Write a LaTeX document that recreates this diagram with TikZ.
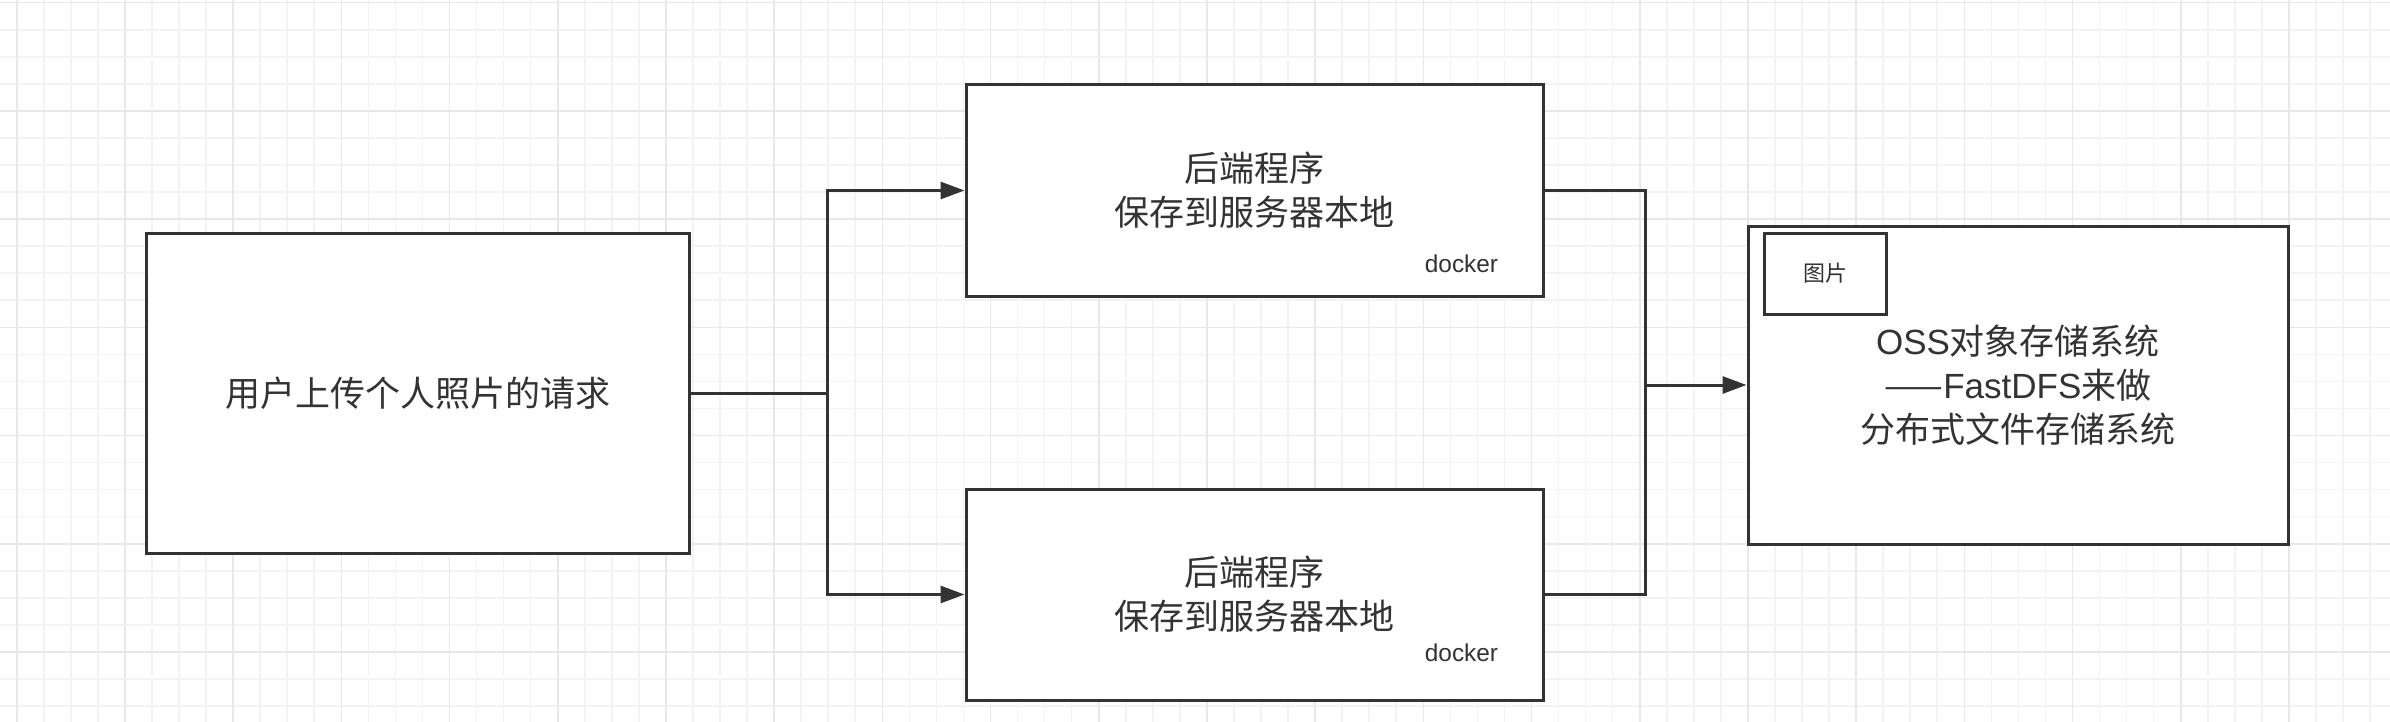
\documentclass[tikz,border=0pt]{standalone}
\usepackage{fontspec}
\setmainfont{Liberation Sans}
\newfontfamily\latin{Liberation Sans}
\newfontfamily\cjk{Noto Sans CJK SC}
\usetikzlibrary{arrows.meta,positioning}
\definecolor{ink}{HTML}{333333}
\definecolor{gridminor}{HTML}{F3F3F3}
\definecolor{gridmajor}{HTML}{E8E8E8}
\begin{document}
\begin{tikzpicture}
[x=0.5pt,y=-0.5pt,
 box/.style={draw=ink,line width=1.5pt,fill=white,align=center,text=ink,inner sep=0pt,
   font=\cjk\fontsize{17.5}{22}\selectfont},
 link/.style={draw=ink,line width=1.5pt},
 arrow/.style={link,-{Triangle[length=12pt,width=8.5pt]}},
 tag/.style={text=ink,font=\latin\fontsize{12.2}{14}\selectfont}]
\useasboundingbox (0,0) rectangle (2390,722);
\fill[white] (0,0) rectangle (2390,722);
%% background grid
\foreach \i in {0,...,88}
{
  \draw[gridminor,line width=0.8pt] (16.7+27.05*\i,0) -- (16.7+27.05*\i,722);
}
\foreach \i in {0,...,26}
{
  \draw[gridminor,line width=0.8pt] (0,2.7+27.05*\i) -- (2390,2.7+27.05*\i);
}
\foreach \i in {0,...,22}
{
  \draw[gridmajor,line width=0.8pt] (16.7+108.2*\i,0) -- (16.7+108.2*\i,722);
}
\foreach \i in {0,...,6}
{
  \draw[gridmajor,line width=0.8pt] (0,2.7+108.2*\i) -- (2390,2.7+108.2*\i);
}
%% boxes
\node[box,minimum width=271.5pt,minimum height=160pt] (req) at (417.5,393) {用户上传个人照片的请求};
\node[box,minimum width=288.5pt,minimum height=105.5pt] (top) at (1254.5,190.5) {后端程序\\保存到服务器本地};
\node[box,minimum width=288.5pt,minimum height=105.5pt] (bot) at (1254.5,594.5) {后端程序\\保存到服务器本地};
\node[box,minimum width=270pt,minimum height=159pt] (oss) at (2018,385)
  {{\latin OSS}对象存储系统\\——{\latin FastDFS}来做\\分布式文件存储系统};
\node[box,font=\cjk\fontsize{11}{13}\selectfont,minimum width=61pt,minimum height=40.5pt,anchor=north west]
  (pic) at ([xshift=8pt,yshift=-3.5pt]oss.north west) {图片};
\node[tag] (dock1) at ([xshift=-41.5pt,yshift=17pt]top.south east) {docker};
\node[tag] (dock2) at ([xshift=-41.5pt,yshift=24.5pt]bot.south east) {docker};
%% connectors
\coordinate (split) at (827,393);
\coordinate (merge) at (1645,385);
\draw[link] (req.east) -- (split);
\draw[arrow] (split) |- (top.west);
\draw[arrow] (split) |- (bot.west);
\draw[link] (top.east) -| (merge);
\draw[link] (bot.east) -| (merge);
\draw[arrow] (merge) -- (oss.west);
\end{tikzpicture}
\end{document}
